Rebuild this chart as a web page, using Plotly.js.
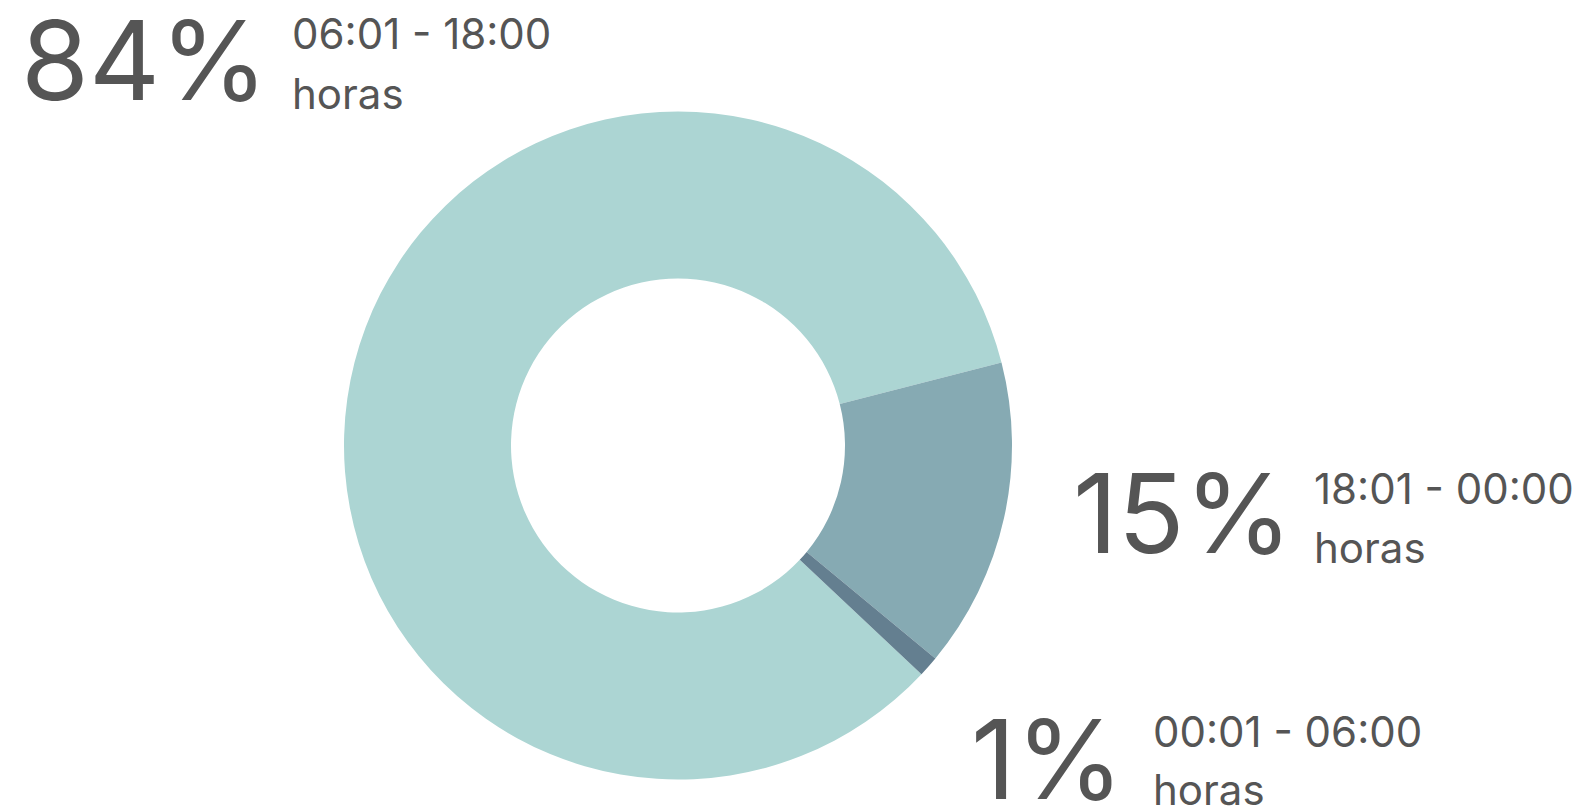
<!DOCTYPE html>
<html>
<head>
<meta charset="utf-8">
<script src="https://cdn.plot.ly/plotly-3.0.1.min.js"></script>
<style>html,body{margin:0;padding:0;background:#fff;}#chart{width:1584px;height:807px;}</style>
</head>
<body>
<div id="chart"></div>
<script>
const categories = ["06:01 - 18:00", "18:01 - 00:00", "00:01 - 06:00"];
const values = [84, 15, 1];
const percentLabels = ["84%", "15%", "1%"];
const unitLabel = "horas";
const colors = ["#acd5d3", "#86aab3", "#647f90"];

const W = 1584, H = 807;
const px = x => x / W;
const py = y => 1 - y / H;

// label anchor positions (pixels) per category
const labelPos = [
  {bigX: 19, bigY: 60, smallX: 290, line1Y: 34, line2Y: 93},
  {bigX: 1071, bigY: 513, smallX: 1312, line1Y: 488, line2Y: 547},
  {bigX: 969, bigY: 759, smallX: 1151, line1Y: 731, line2Y: 789}
];

const textColor = "#555555";
const fontFamily = "Inter, 'DejaVu Sans', sans-serif";
const annotations = [];
categories.forEach((c, i) => {
  const p = labelPos[i];
  annotations.push({xref: 'paper', yref: 'paper', x: px(p.bigX), y: py(p.bigY), xanchor: 'left', yanchor: 'middle',
    text: percentLabels[i], showarrow: false, font: {family: fontFamily, size: 110, color: textColor}});
  annotations.push({xref: 'paper', yref: 'paper', x: px(p.smallX), y: py(p.line1Y), xanchor: 'left', yanchor: 'middle',
    text: c, showarrow: false, font: {family: fontFamily, size: 42, color: textColor}});
  annotations.push({xref: 'paper', yref: 'paper', x: px(p.smallX), y: py(p.line2Y), xanchor: 'left', yanchor: 'middle',
    text: unitLabel, showarrow: false, font: {family: fontFamily, size: 42, color: textColor}});
});

const cx = 678, cy = 445.5, r = 334;
const data = [{
  type: 'pie',
  labels: categories,
  values: values,
  hole: 0.5,
  sort: false,
  direction: 'clockwise',
  rotation: 133.2,
  textinfo: 'none',
  hoverinfo: 'label+percent',
  marker: {colors: colors, line: {width: 0}},
  domain: {x: [px(cx - r), px(cx + r)], y: [py(cy + r), py(cy - r)]},
  showlegend: false
}];

const layout = {
  width: W, height: H,
  margin: {l: 0, r: 0, t: 0, b: 0},
  paper_bgcolor: '#ffffff',
  showlegend: false,
  annotations: annotations
};

Plotly.newPlot('chart', data, layout, {displayModeBar: false, staticPlot: true});
</script>
</body>
</html>
